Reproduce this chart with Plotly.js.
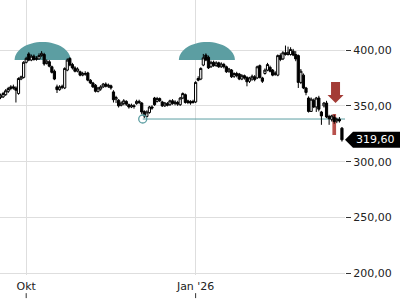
<!DOCTYPE html>
<html>
<head>
<meta charset="utf-8">
<script src="https://cdn.plot.ly/plotly-3.0.1.min.js"></script>
<style>html,body{margin:0;padding:0;background:#fff;}#chart{width:400px;height:300px;}</style>
</head>
<body>
<div id="chart"></div>
<script>
// ---- data ----
const dates = [
 '2025-09-17','2025-09-18','2025-09-19','2025-09-22','2025-09-23','2025-09-24','2025-09-25','2025-09-26','2025-09-29','2025-09-30',
 '2025-10-01','2025-10-02','2025-10-03','2025-10-06','2025-10-07','2025-10-08','2025-10-09','2025-10-10','2025-10-13','2025-10-14',
 '2025-10-15','2025-10-16','2025-10-17','2025-10-20','2025-10-21','2025-10-22','2025-10-23','2025-10-24','2025-10-27','2025-10-28',
 '2025-10-29','2025-10-30','2025-10-31','2025-11-03','2025-11-04','2025-11-05','2025-11-06','2025-11-07','2025-11-10','2025-11-11',
 '2025-11-12','2025-11-13','2025-11-14','2025-11-17','2025-11-18','2025-11-19','2025-11-20','2025-11-21','2025-11-24','2025-11-25',
 '2025-11-26','2025-11-27','2025-11-28','2025-12-01','2025-12-02','2025-12-03','2025-12-04','2025-12-05','2025-12-08','2025-12-09',
 '2025-12-10','2025-12-11','2025-12-12','2025-12-15','2025-12-16','2025-12-17','2025-12-18','2025-12-19','2025-12-22','2025-12-23',
 '2025-12-24','2025-12-25','2025-12-26','2025-12-29','2025-12-30','2025-12-31','2026-01-01','2026-01-02','2026-01-05','2026-01-06',
 '2026-01-07','2026-01-08','2026-01-09','2026-01-12','2026-01-13','2026-01-14','2026-01-15','2026-01-16','2026-01-19','2026-01-20',
 '2026-01-21','2026-01-22','2026-01-23','2026-01-26','2026-01-27','2026-01-28','2026-01-29','2026-01-30','2026-02-02','2026-02-03',
 '2026-02-04','2026-02-05','2026-02-06','2026-02-09','2026-02-10','2026-02-11','2026-02-12','2026-02-13','2026-02-16','2026-02-17',
 '2026-02-18','2026-02-19','2026-02-20','2026-02-23','2026-02-24','2026-02-25','2026-02-26','2026-02-27','2026-03-02','2026-03-03',
 '2026-03-04','2026-03-05','2026-03-06','2026-03-09','2026-03-10','2026-03-11','2026-03-12','2026-03-13','2026-03-16','2026-03-17',
 '2026-03-18','2026-03-19','2026-03-20','2026-03-23'
];
const open = [
 357.5,358,360,363,365.5,367,366,361,374,375.5,
 389,396.5,391,394.5,391.5,392,395,396,388,389.5,
 385,381,367,364.5,366.5,366,382,392.5,387,384,
 381,380.5,377.5,379,379.5,373,370.5,368.5,363,365,
 367,369.5,367.5,368,362.5,356,355,350.5,352,354,
 351,349,350,352,354,352.5,345,340.5,344,349,
 357,354,356.5,353.5,350,352,351,354.5,352,353,
 351,357,360,353,354,353,353.5,374.5,374,386.5,
 395.5,393.5,385,389,386,388.5,385,387,385,381,
 382,376.5,379,378.5,374,377,375.5,372,374,376,
 375,386,375,379,382,384.5,382,378,377.5,395,
 392,397.5,396,396,399,396,395,371,377.5,366,
 357,345,355,349,357,344.5,350,352.5,340.5,338,
 339.5,336.5,338,330
];
const high = [
 361,362.5,365,367,368.5,369,367.5,375.5,377,390,
 394,398,396,396,394.5,397,399,397.5,391.5,391,
 386,382.5,369,368.5,369,384.5,392.5,393.5,388.5,385.5,
 384.5,381.5,380.5,381,380.5,374,371.5,369.5,367,368.5,
 370.5,371,370,369,364,359,356,354,356,355,
 352,352,351.5,355.5,355.5,353.5,346,346,350,350.5,
 358,358,357.5,354.5,353.5,353.5,355.5,356,355,354.5,
 358,362,361,355.5,355,355.5,372,376.5,384.5,396.5,
 397,395,390.5,390.5,390,389.5,389,388.5,386,384,
 383,380,380.5,379.5,378.5,378,376.5,376,378,377.5,
 386,387,376,383.5,388.5,386,383,381,396,397,
 399,404,403,402.5,401,399,396,383,379,367,
 358.5,357.5,356.5,358,359,345.5,353.5,354.5,342,342,
 342,339.5,340,331
];
const low = [
 356,357,359,361.5,364,364.5,353,360,373,374.5,
 388,390,390,390.5,390.5,391.5,394,386,387,384.5,
 379,373,361.5,363.5,365,365,381,385.5,382.5,380,
 380,376.5,376.5,377,372,369.5,366,362,362,363.5,
 366,366.5,366,364.5,353,352.5,348.5,349.5,350.5,350,
 347.5,348,347.5,351,351.5,342.5,339,339.5,343,346.5,
 350,353,353.5,349,349,349.5,350,351,350.5,350,
 350,356,352,351.5,351,352,352.5,372,373,385.5,
 390,383,384,385,385,384,384,383.5,379.5,379.5,
 375,375,375.5,373,373,373.5,367.5,370.5,372.5,372,
 374,374.5,370.5,378,381,380,376.5,377,376.5,390,
 391,395,395,395,394.5,390,366,369.5,365,359.5,
 344,344.5,348,344.5,345,333,348.5,339,333,336,
 334,334.5,335,318
];
const close = [
 359.5,361,363.5,365.5,367,366,364,374.5,376,389,
 392.5,391,394.5,391.5,392.5,395,397,387.5,390,385.5,
 380,374,364.5,367,367.5,383.5,391,386.5,384,381,
 383,377.5,379,378.5,373,370.5,367,363,366,367,
 369.5,367.5,368.5,366,355.5,357.5,350,352.5,354.5,351.5,
 349,350.5,349.5,354,353,344.5,341,344.5,349,348,
 351,356.5,354.5,350,352.5,350.5,354.5,352,353.5,351.5,
 357,361,353,354.5,352.5,354,371,373,383.5,393,
 391,384,389,386,388.5,385,387.5,385,380.5,383,
 376,379,377,374,377,375,371.5,375,376.5,373.5,
 385,375.5,372,382,387,381,377.5,379.5,395,391.5,
 397.5,396,398,400.5,395.5,392,371,381,366,362,
 345,356,349,357,347,341,352.5,340,338.5,341,
 336,338,336.5,319.6
];
// highlighted signal candle
const signalDate = ['2026-03-18'];
const signalOpen = [342];
const signalHigh = [342];
const signalLow = [324.5];
const signalClose = [324.5];
const signalArrowTip = 352.5;
// double-top pattern
const peakDates = ['2025-10-09', '2026-01-07'];
const peakBase = 391;
const necklineDate = '2025-12-03';
const necklineLevel = 338.2;
// axis ticks
const yTicks = [200, 250, 300, 350, 400];
const xTickDates = ['2025-10-01', '2026-01-01'];
const xTickText = ['Okt', "Jan '26"];

// ---- chart ----
const teal = '#5c9ea2';
const xRange = [-0.206, 134.19];
const yRange = [198.5, 444.8];
const idx = d => dates.indexOf(d);
const lastClose = close[close.length - 1];

function halfEllipse(a, b, dx) {
  const k = 0.5523;
  const f = v => v.toFixed(2);
  return 'M ' + f(dx - a) + ',0 C ' + f(dx - a) + ',' + f(k * b) + ' ' + f(dx - k * a) + ',' + f(b) + ' ' + f(dx) + ',' + f(b) +
         ' C ' + f(dx + k * a) + ',' + f(b) + ' ' + f(dx + a) + ',' + f(k * b) + ' ' + f(dx + a) + ',0 Z';
}

const shapes = [];
peakDates.forEach(d => {
  shapes.push({type: 'path', layer: 'between', xref: 'x', yref: 'y', xsizemode: 'pixel', ysizemode: 'pixel',
    xanchor: idx(d), yanchor: peakBase, path: halfEllipse(28, 18, 1),
    fillcolor: teal, line: {width: 0}});
});
shapes.push({type: 'line', layer: 'between', xref: 'x', yref: 'y', x0: idx(necklineDate) + 0.4, x1: xRange[1],
  y0: necklineLevel, y1: necklineLevel, line: {color: teal, width: 1}});
shapes.push({type: 'circle', layer: 'above', xref: 'x', yref: 'y', xsizemode: 'pixel', ysizemode: 'pixel',
  xanchor: idx(necklineDate), yanchor: necklineLevel, x0: -3, x1: 5, y0: -4, y1: 4,
  line: {color: teal, width: 1.3}, fillcolor: 'rgba(0,0,0,0)'});
shapes.push({type: 'path', layer: 'above', xref: 'x', yref: 'y', xsizemode: 'pixel', ysizemode: 'pixel',
  xanchor: idx(signalDate[0]), yanchor: signalArrowTip,
  path: 'M -3.2,21 L 5.8,21 L 5.8,8 L 9.3,8 L 1.3,0 L -6.7,8 L -3.2,8 Z',
  fillcolor: '#a33c36', line: {width: 0}});
shapes.push({type: 'path', layer: 'above', xref: 'paper', yref: 'y', xsizemode: 'pixel', ysizemode: 'pixel',
  xanchor: 1, yanchor: lastClose, path: 'M 0,0 L 8,8 L 56,8 L 56,-8 L 8,-8 Z',
  fillcolor: '#000', line: {width: 0}});
xTickDates.forEach(d => {
  shapes.push({type: 'line', xref: 'x', yref: 'paper', x0: idx(d), x1: idx(d), y0: -0.066, y1: -0.084,
    line: {color: '#333', width: 1}});
});

const traces = [
  {type: 'candlestick', x: signalDate, open: signalOpen, high: signalHigh, low: signalLow, close: signalClose,
   increasing: {line: {color: '#b8524d', width: 1.5}, fillcolor: '#b8524d'},
   decreasing: {line: {color: '#b8524d', width: 1.5}, fillcolor: '#b8524d'},
   hoverinfo: 'skip', showlegend: false},
  {type: 'candlestick', x: dates, open: open, high: high, low: low, close: close,
   increasing: {line: {color: '#000', width: 1}, fillcolor: '#fff'},
   decreasing: {line: {color: '#000', width: 1}, fillcolor: '#000'},
   whiskerwidth: 0, hoverinfo: 'skip', showlegend: false}
];

const layout = {
  width: 400, height: 300,
  margin: {l: 0, r: 55, t: 0, b: 25, pad: 0},
  paper_bgcolor: '#fff', plot_bgcolor: '#fff',
  showlegend: false,
  separators: ',.',
  boxmode: 'overlay',
  boxgap: 0.15,
  boxgroupgap: 0,
  font: {family: 'DejaVu Sans', size: 11, color: '#222'},
  xaxis: {type: 'category', categoryorder: 'array', categoryarray: dates,
    range: xRange, tickmode: 'array', tickvals: xTickDates, ticktext: xTickText,
    showgrid: true, gridcolor: '#dedede', gridwidth: 1, ticks: '', showline: false, zeroline: false,
    ticklabelstandoff: 3,
    rangeslider: {visible: false}, fixedrange: true, tickfont: {size: 11, color: '#222'}},
  yaxis: {side: 'right', range: yRange, tickmode: 'array', tickvals: yTicks, tickformat: '.2f',
    ticks: 'outside', ticklen: 5, tickcolor: '#333', tickwidth: 1,
    showgrid: true, gridcolor: '#dedede', gridwidth: 1, showline: false, zeroline: false, fixedrange: true,
    tickfont: {size: 11, color: '#222'}},
  shapes: shapes,
  annotations: [{xref: 'paper', yref: 'y', x: 1, y: lastClose, xanchor: 'left', yanchor: 'middle', xshift: 9,
    text: lastClose.toFixed(2).replace('.', ','), showarrow: false, font: {color: '#fff', size: 11}}]
};

Plotly.newPlot('chart', traces, layout, {staticPlot: true, displayModeBar: false});
</script>
</body>
</html>
